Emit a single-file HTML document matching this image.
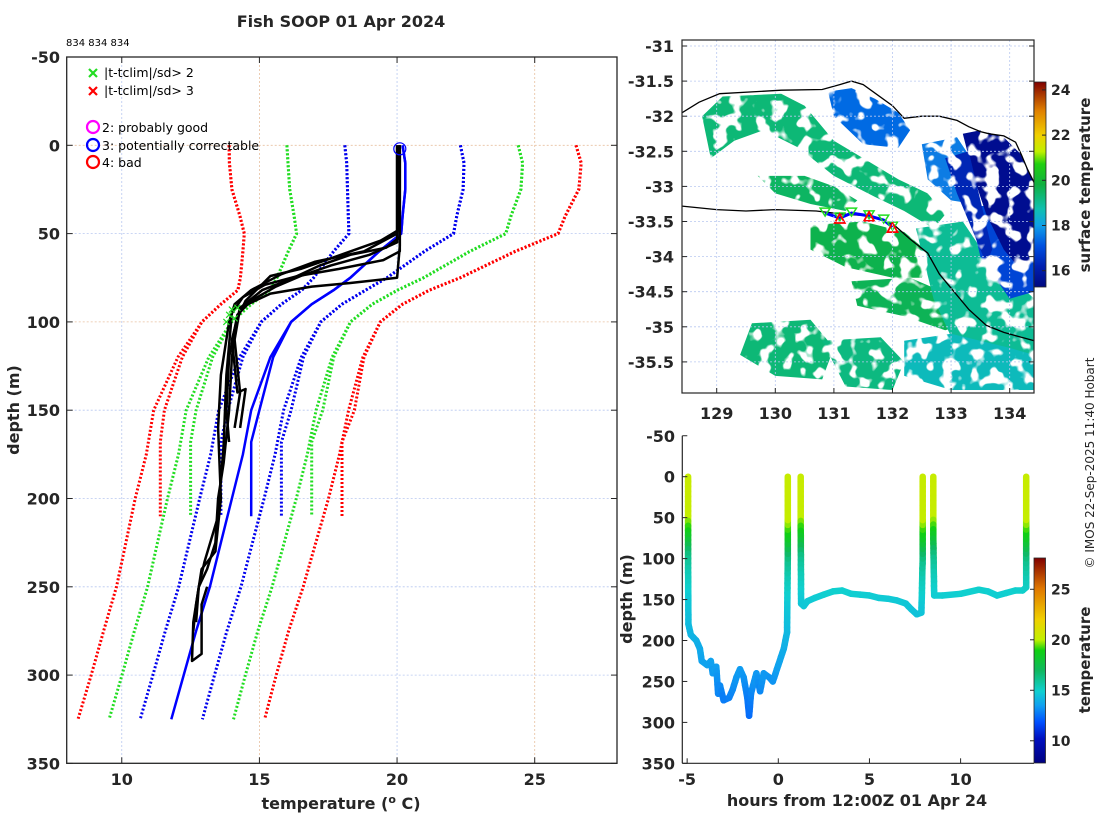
<!DOCTYPE html>
<html><head><meta charset="utf-8"><style>
html,body{margin:0;padding:0;background:#fff}
svg{display:block;font-family:"DejaVu Sans","Liberation Sans",sans-serif}
.b{font-weight:bold;fill:#262626}
</style></head><body>
<svg id="s" width="1100" height="820" viewBox="0 0 1100 820" xmlns="http://www.w3.org/2000/svg">
<defs>
<linearGradient id="cbMap" x1="0" y1="1" x2="0" y2="0">
<stop offset="0" stop-color="#000880"/><stop offset="0.1" stop-color="#0020b0"/><stop offset="0.2" stop-color="#0050e0"/>
<stop offset="0.3" stop-color="#10a0e8"/><stop offset="0.38" stop-color="#10c0b0"/><stop offset="0.5" stop-color="#10b040"/>
<stop offset="0.6" stop-color="#20d010"/><stop offset="0.66" stop-color="#c0f000"/><stop offset="0.74" stop-color="#f0d000"/>
<stop offset="0.86" stop-color="#e08000"/><stop offset="1" stop-color="#800000"/></linearGradient>
<linearGradient id="cbTrk" x1="0" y1="1" x2="0" y2="0">
<stop offset="0" stop-color="#000080"/><stop offset="0.12" stop-color="#0010c0"/><stop offset="0.2" stop-color="#0050ff"/>
<stop offset="0.28" stop-color="#10a0f0"/><stop offset="0.35" stop-color="#10d0d0"/><stop offset="0.45" stop-color="#10b860"/>
<stop offset="0.55" stop-color="#10d010"/><stop offset="0.6" stop-color="#c0f000"/><stop offset="0.7" stop-color="#f0d000"/>
<stop offset="0.85" stop-color="#e07800"/><stop offset="1" stop-color="#800000"/></linearGradient>
<filter id="speckle" x="0" y="0" width="1" height="1">
<feTurbulence type="fractalNoise" baseFrequency="0.07" numOctaves="2" seed="4" result="n"/>
<feColorMatrix in="n" type="matrix" values="0 0 0 0 0  0 0 0 0 0  0 0 0 0 0  0 0 0 -12 7.3" result="m"/>
<feComposite in="SourceGraphic" in2="m" operator="in"/>
</filter>
</defs>
<text class="b" x="341" y="27" text-anchor="middle" font-size="16">Fish SOOP 01 Apr 2024</text>
<text x="66" y="46" font-size="10" fill="#000">834 834 834</text>
<g id="main"></g>
<g id="map"></g>
<g id="trk"></g>
<text x="1094" y="463" font-size="12" fill="#262626" text-anchor="middle" transform="rotate(-90 1094 463)">© IMOS 22-Sep-2025 11:40 Hobart</text>
</svg>
<script>
// ---------- data: climatology ----------
const climDepthA=[0,10,25,40,50,60,75,82,90,100,120,150,168,190,210];
const climMeanA=[20.2,20.3,20.3,20.2,20.15,19.35,18.3,17.7,16.9,16.15,15.5,15.0,14.7,14.7,14.7];
const climSdA=[2.1,2.13,2.1,1.97,1.9,1.65,1.33,1.16,1.1,1.08,1.1,1.15,1.1,1.1,1.1];
const climDepthB=[0,10,25,40,50,60,75,82,90,100,120,150,175,200,225,250,275,300,325];
const climMeanB=[20.2,20.3,20.3,20.2,20.15,19.35,18.3,17.7,16.9,16.15,15.4,14.7,14.4,14.0,13.6,13.2,12.7,12.25,11.8];
const climSdB=[2.1,2.13,2.1,1.97,1.9,1.65,1.33,1.16,1.1,1.08,1.12,1.18,1.17,1.17,1.15,1.13,1.12,1.12,1.13];
// ---------- data: observed profiles [temp, depth] ----------
const prof1=[[20.05,0],[20.05,48],[19.4,54],[17.6,64],[16.5,70],[15.4,74],[14.5,88],[14.2,98],[14.0,120],[13.9,150],[13.7,180],[13.5,200],[13.4,225],[13.1,240],[12.8,250],[12.6,270],[12.55,292],[12.9,288],[12.9,260],[13.1,250]];
const prof2=[[20.1,0],[20.1,52],[19.6,58],[18.3,62],[17.2,68],[16.1,76],[15.1,82],[14.3,92],[14.1,110],[14.3,140],[14.1,160]];
const prof3=[[20.0,0],[20.0,55],[19.0,62],[17.6,68],[16.5,74],[15.6,80],[14.7,88],[14.2,96],[13.9,120],[13.8,150],[13.9,168]];
const prof4=[[20.1,0],[20.1,57],[20.0,75],[18.3,78],[16.9,80],[15.4,84],[14.3,92],[14.0,110],[14.2,140],[14.5,138],[14.3,160]];
const prof5=[[20.0,0],[20.0,50],[18.8,60],[17.0,66],[15.8,73],[14.7,82],[14.1,90],[13.9,100],[13.6,130],[13.5,160],[13.6,200],[13.4,230],[12.9,240],[12.7,260],[12.6,275]];
const prof6=[[20.1,0],[20.1,60],[19.5,65],[17.9,70],[16.4,74],[15.2,79],[14.4,86],[14.0,95],[13.8,130],[13.7,170],[13.5,210],[13.0,236],[12.8,250],[12.7,270]];
const flagX=[[14.0,93],[13.9,96],[14.1,98],[13.8,100],[14.2,92]];
const xTicks=[10,15,20,25];
const yTicks=[-50,0,50,100,150,200,250,300,350];
// ---------- data: fish track ----------
const trackHours=[[-4.95,-4.95,-4.95,-4.93,-4.8,-4.5,-4.3,-4.2,-3.9,-3.7,-3.6,-3.4,-3.3,-3.2,-3.0,-2.7,-2.5,-2.3,-2.1,-1.9,-1.7,-1.6,-1.5,-1.2,-1.0,-0.8,-0.5,-0.3,0,0.3,0.48,0.52,0.52],
[1.23,1.23,1.25,1.4,1.6,2.0,2.5,3.0,3.5,4.0,4.5,5.0,5.5,6.0,6.5,7.0,7.3,7.6,7.85,7.92,7.92],
[8.5,8.5,8.55,9,10,11,11.5,12,12.5,13,13.4,13.6,13.6]];
const trackDepths=[[0,60,100,180,193,200,210,225,230,225,240,232,265,255,273,270,260,245,235,245,270,292,265,240,262,240,245,250,230,210,190,100,0],
[0,60,155,158,152,148,144,140,139,143,144,145,148,149,151,155,162,168,166,100,0],
[0,70,145,145,143,138,140,145,142,139,139,135,0]];
const hTicks=[-5,0,5,10];
// ---------- data: map ----------
const lonTicks=[129,130,131,132,133,134];
const latTicks=[-31,-31.5,-32,-32.5,-33,-33.5,-34,-34.5,-35,-35.5];
const coastLon=[128.41,128.7,129.05,130.1,130.8,131.1,131.3,131.5,132.0,132.2,132.5,132.8,133.1,133.3,133.5,133.65,133.9,134.1,134.2,134.3,134.42];
const coastLat=[-31.95,-31.8,-31.68,-31.63,-31.62,-31.55,-31.5,-31.55,-31.85,-32.03,-32.0,-32.0,-32.06,-32.15,-32.22,-32.25,-32.28,-32.37,-32.55,-32.75,-32.95];
const shelfLon=[128.41,129.0,129.5,130.0,130.7,131.1,131.6,132.0,132.3,132.6,132.8,133.0,133.3,133.6,133.9,134.2,134.42];
const shelfLat=[-33.28,-33.33,-33.35,-33.33,-33.35,-33.39,-33.42,-33.53,-33.75,-33.95,-34.25,-34.45,-34.75,-34.98,-35.08,-35.15,-35.2];
const shipLon=[130.85,131.1,131.3,131.6,131.85,132.0];
const shipLat=[-33.38,-33.45,-33.38,-33.42,-33.48,-33.58];
const sstPatches=[
 {t:19.3,lon:[128.75,129.1,130.1,130.5,131.0,131.6,132.1,132.6,132.9,132.7,132.2,131.7,131.0,130.4,129.8,129.3,128.9],lat:[-32.0,-31.72,-31.68,-31.85,-32.35,-32.65,-32.9,-33.1,-33.4,-33.6,-33.35,-33.15,-32.85,-32.45,-32.2,-32.35,-32.6]},
 {t:19.5,lon:[129.7,130.5,131.0,131.4,131.2,130.6,130.0],lat:[-32.85,-32.85,-33.0,-33.2,-33.35,-33.25,-33.1]},
 {t:19.7,lon:[130.6,131.5,132.2,132.7,132.5,132.0,131.2,130.6],lat:[-33.55,-33.5,-33.65,-34.0,-34.3,-34.3,-34.15,-33.9]},
 {t:19.6,lon:[131.3,132.3,133.0,133.3,132.9,132.2,131.4],lat:[-34.35,-34.3,-34.55,-34.95,-35.05,-34.85,-34.7]},
 {t:19.3,lon:[129.6,130.6,131.0,130.8,130.0,129.4],lat:[-34.95,-34.9,-35.3,-35.75,-35.7,-35.4]},
 {t:19.2,lon:[130.8,131.8,132.2,132.0,131.2],lat:[-35.2,-35.15,-35.5,-35.9,-35.85]},
 {t:19.0,lon:[132.4,133.2,133.6,134.42,134.42,133.8,133.2,132.7],lat:[-33.6,-33.5,-34.0,-34.6,-35.9,-35.9,-35.5,-34.6]},
 {t:18.6,lon:[132.2,133.0,134.0,134.42,134.42,133.0,132.2],lat:[-35.2,-35.1,-35.3,-35.4,-35.9,-35.9,-35.7]},
 {t:17.4,lon:[130.9,131.3,131.7,132.1,132.3,132.1,131.5,131.0],lat:[-31.65,-31.6,-31.75,-31.95,-32.2,-32.45,-32.4,-32.0]},
 {t:17.6,lon:[132.5,133.1,133.5,133.4,133.0,132.6],lat:[-32.4,-32.3,-32.8,-33.25,-33.2,-32.9]},
 {t:16.9,lon:[133.3,134.42,134.42,134.0,133.5],lat:[-33.3,-33.2,-34.5,-34.6,-34.0]},
 {t:15.6,lon:[133.2,133.5,133.9,134.2,134.42,134.42,134.2,133.9,133.6,133.4],lat:[-32.25,-32.2,-32.3,-32.55,-32.95,-34.0,-34.2,-33.9,-33.4,-32.9]},
 {t:16.3,lon:[132.9,133.3,133.5,133.7,133.6,133.1],lat:[-32.6,-32.5,-33.2,-33.9,-34.1,-33.1]}
];

const S=document.getElementById('s');
const NS='http://www.w3.org/2000/svg';
function mk(tag,attrs,parent){const e=document.createElementNS(NS,tag);for(const k in attrs)e.setAttribute(k,attrs[k]);(parent||S).appendChild(e);return e;}
function interp(xs,ys,x){if(x<=xs[0])return ys[0];for(let i=1;i<xs.length;i++){if(x<=xs[i]){const f=(x-xs[i-1])/(xs[i]-xs[i-1]);return ys[i-1]+f*(ys[i]-ys[i-1]);}}return ys[ys.length-1];}
const stops=[[0,[0,0,128]],[0.12,[0,16,192]],[0.2,[0,80,255]],[0.28,[16,160,240]],[0.35,[16,208,208]],[0.45,[16,184,96]],[0.55,[16,208,16]],[0.6,[192,240,0]],[0.7,[240,208,0]],[0.85,[224,120,0]],[1,[128,0,0]]];
function cmap(t){t=Math.max(0,Math.min(1,t));for(let i=1;i<stops.length;i++){if(t<=stops[i][0]){const a=stops[i-1],b=stops[i],f=(t-a[0])/(b[0]-a[0]);const c=a[1].map((v,j)=>Math.round(v+f*(b[1][j]-v)));return 'rgb('+c.join(',')+')';}}return 'rgb(128,0,0)';}
const mstops=[[0,[0,8,128]],[0.1,[0,32,176]],[0.2,[0,80,224]],[0.3,[16,160,232]],[0.38,[16,192,176]],[0.5,[16,176,64]],[0.6,[32,208,16]],[0.66,[192,240,0]],[0.74,[240,208,0]],[0.86,[224,128,0]],[1,[128,0,0]]];
function mcmap(T){const t=Math.max(0,Math.min(1,(T-15.3)/(24.35-15.3)));for(let i=1;i<mstops.length;i++){if(t<=mstops[i][0]){const a=mstops[i-1],b=mstops[i],f=(t-a[0])/(b[0]-a[0]);return 'rgb('+a[1].map((v,j)=>Math.round(v+f*(b[1][j]-v))).join(',')+')';}}return 'rgb(128,0,0)';}

// ================= MAIN PROFILE PLOT =================
const G=document.getElementById('main');
const X=T=>66.7+(T-8)*27.53, Y=d=>57+(d+50)*1.766;
const L=66.7,R=617,T0=57,B=763.3;
xTicks.forEach((v,i)=>{const g=mk('line',{x1:X(v),x2:X(v),y1:T0,y2:B,stroke:(i%2?'#e8c0a0':'#b8c8f0'),'stroke-width':0.8,'stroke-dasharray':'2 2'},G);
});
yTicks.forEach((v,i)=>{const g=mk('line',{x1:L,x2:R,y1:Y(v),y2:Y(v),stroke:(v===0||v===100?'#e8c0a0':'#b8c8f0'),'stroke-width':0.8,'stroke-dasharray':'2 2'},G);
});
function dotted(depths,temps,color,name){const p=depths.map((d,i)=>X(temps[i]).toFixed(1)+','+Y(d).toFixed(1)).join(' ');
const e=mk('polyline',{points:p,fill:'none',stroke:color,'stroke-width':3,'stroke-dasharray':'2 2'},G);
}
[[climDepthA,climMeanA,climSdA],[climDepthB,climMeanB,climSdB]].forEach(([D,M,SD],k)=>{
 [[-3,'#ff0000'],[-2,'#22dd22'],[-1,'#0000ee'],[1,'#0000ee'],[2,'#22dd22'],[3,'#ff0000']].forEach(([n,c])=>{
  dotted(D,M.map((m,i)=>m+n*SD[i]),c,'clim-sd'+(n>0?'plus':'minus')+Math.abs(n));});
});
[[climDepthA,climMeanA],[climDepthB,climMeanB]].forEach(([D,M])=>{
 const e=mk('polyline',{points:D.map((d,i)=>X(M[i]).toFixed(1)+','+Y(d).toFixed(1)).join(' '),fill:'none',stroke:'#0000ff','stroke-width':2.5},G);
 });
[prof1,prof2,prof3,prof4,prof5,prof6].forEach((P,i)=>{
 const e=mk('polyline',{points:P.map(p=>X(p[0]).toFixed(1)+','+Y(p[1]).toFixed(1)).join(' '),fill:'none',stroke:'#000','stroke-width':2.5,'stroke-linejoin':'round'},G);
 });
flagX.forEach(p=>{const x=X(p[0]),y=Y(p[1]);const e=mk('path',{d:`M${x-3},${y-3}L${x+3},${y+3}M${x-3},${y+3}L${x+3},${y-3}`,stroke:'#22dd22','stroke-width':1.2},G);
 });
{const e=mk('circle',{cx:X(20.1),cy:Y(2),r:6,fill:'none',stroke:'#0000ff','stroke-width':1.2},G);}
{const e=mk('rect',{x:L,y:T0,width:R-L,height:B-T0,fill:'none',stroke:'#262626','stroke-width':1.3},G);}
xTicks.forEach(v=>{mk('line',{x1:X(v),x2:X(v),y1:B,y2:B-6,stroke:'#262626'},G);mk('line',{x1:X(v),x2:X(v),y1:T0,y2:T0+6,stroke:'#262626'},G);
 const t=mk('text',{x:X(v),y:785,'text-anchor':'middle','font-size':16,class:'b'},G);t.textContent=v;});
yTicks.forEach(v=>{mk('line',{x1:L,x2:L+6,y1:Y(v),y2:Y(v),stroke:'#262626'},G);mk('line',{x1:R,x2:R-6,y1:Y(v),y2:Y(v),stroke:'#262626'},G);
 const t=mk('text',{x:60,y:Y(v)+6,'text-anchor':'end','font-size':16,class:'b'},G);t.textContent=v;});
{const t=mk('text',{x:19,y:410,'text-anchor':'middle','font-size':16,class:'b',transform:'rotate(-90 19 410)'},G);t.textContent='depth (m)';}
{const t=mk('text',{x:341,y:809,'text-anchor':'middle','font-size':16,class:'b'},G);t.innerHTML='temperature (<tspan font-size="11" dy="-6">o</tspan><tspan dy="6"> C)</tspan>';}
// legend
[[73,'#22dd22','|t-tclim|/sd> 2'],[91,'#ff0000','|t-tclim|/sd> 3']].forEach(([y,c,s])=>{
 const e=mk('path',{d:`M89,${y-4}L97,${y+4}M89,${y+4}L97,${y-4}`,stroke:c,'stroke-width':2.2},G);
 const t=mk('text',{x:104,y:y+4,'font-size':12.5,fill:'#000'},G);t.textContent=s;});
[[127,'#ff00ff','2: probably good'],[145,'#0000ff','3: potentially correctable'],[162,'#ff0000','4: bad']].forEach(([y,c,s])=>{
 const e=mk('circle',{cx:93,cy:y,r:6,fill:'none',stroke:c,'stroke-width':2.2},G);
 const t=mk('text',{x:102,y:y+5,'font-size':12.5,fill:'#000'},G);t.textContent=s;});

// ================= MAP =================
const M=document.getElementById('map');
const MX=lon=>716.7+(lon-129)*58.6, MY=lat=>46+(-31-lat)*70.2;
const ML=682,MR=1034,MT=40,MB=393;
const cp=mk('clipPath',{id:'mclip'},M);mk('rect',{x:ML,y:MT,width:MR-ML,height:MB-MT},cp);
const MC=mk('g',{'clip-path':'url(#mclip)'},M);
const MG=mk('g',{filter:'url(#speckle)'},MC);
mk('rect',{x:ML,y:MT,width:MR-ML,height:MB-MT,fill:'none'},MG);
sstPatches.forEach(p=>{const e=mk('polygon',{points:p.lon.map((l,i)=>MX(l).toFixed(1)+','+MY(p.lat[i]).toFixed(1)).join(' '),fill:mcmap(p.t)},MG);
 });
lonTicks.forEach(v=>{mk('line',{x1:MX(v),x2:MX(v),y1:MT,y2:MB,stroke:'#b8c8f0','stroke-width':0.8,'stroke-dasharray':'2 2'},M);});
latTicks.forEach(v=>{mk('line',{x1:ML,x2:MR,y1:MY(v),y2:MY(v),stroke:'#b8c8f0','stroke-width':0.8,'stroke-dasharray':'2 2'},M);});
{const e=mk('polyline',{points:coastLon.map((l,i)=>MX(l).toFixed(1)+','+MY(coastLat[i]).toFixed(1)).join(' '),fill:'none',stroke:'#000','stroke-width':1.3},MC);}
{const e=mk('polyline',{points:shelfLon.map((l,i)=>MX(l).toFixed(1)+','+MY(shelfLat[i]).toFixed(1)).join(' '),fill:'none',stroke:'#000','stroke-width':1.3},MC);}
{const e=mk('polyline',{points:shipLon.map((l,i)=>MX(l).toFixed(1)+','+MY(shipLat[i]).toFixed(1)).join(' '),fill:'none',stroke:'#0000ff','stroke-width':3},MC);}
shipLon.forEach((l,i)=>{const x=MX(l),y=MY(shipLat[i]);
 const g=mk('polygon',{points:`${x-5},${y-5} ${x+5},${y-5} ${x},${y+3}`,fill:'none',stroke:'#22dd22','stroke-width':1.5},MC);
 if(i%2){const r=mk('polygon',{points:`${x-5},${y+5} ${x+5},${y+5} ${x},${y-4}`,fill:'none',stroke:'#ff0000','stroke-width':1.8},MC);}});
{const e=mk('rect',{x:ML,y:MT,width:MR-ML,height:MB-MT,fill:'none',stroke:'#262626','stroke-width':1.2},M);}
lonTicks.forEach(v=>{mk('line',{x1:MX(v),x2:MX(v),y1:MB,y2:MB-5,stroke:'#262626'},M);
 const t=mk('text',{x:MX(v),y:419,'text-anchor':'middle','font-size':16,class:'b'},M);t.textContent=v;});
latTicks.forEach(v=>{mk('line',{x1:ML,x2:ML+5,y1:MY(v),y2:MY(v),stroke:'#262626'},M);mk('line',{x1:MR,x2:MR-5,y1:MY(v),y2:MY(v),stroke:'#262626'},M);
 const t=mk('text',{x:674,y:MY(v)+6,'text-anchor':'end','font-size':16,class:'b'},M);t.textContent=v;});
{const e=mk('rect',{x:1034,y:82,width:12,height:205,fill:'url(#cbMap)',stroke:'#262626','stroke-width':0.8},M);}
[16,18,20,22,24].forEach(v=>{const y=270.7-(v-16)*22.6;mk('line',{x1:1046,x2:1042,y1:y,y2:y,stroke:'#262626'},M);
 const t=mk('text',{x:1051,y:y+5,'font-size':14,class:'b'},M);t.textContent=v;});
{const t=mk('text',{x:1090,y:185,'text-anchor':'middle','font-size':15,class:'b',transform:'rotate(-90 1090 185)'},M);t.textContent='surface temperature';}

// ================= TRACK =================
const K=document.getElementById('trk');
const HX=h=>778.3+h*18.23, HY=d=>476.7+d*0.819;
const TL=682.3,TR=1034,TT=435.7,TB=763.3;
trackHours.forEach((hs,k)=>{const ds=trackDepths[k];
 for(let i=1;i<hs.length;i++){const n=Math.max(1,Math.ceil(Math.abs(ds[i]-ds[i-1])/6));
  for(let j=0;j<n;j++){const f0=j/n,f1=(j+1)/n;
   const h0=hs[i-1]+(hs[i]-hs[i-1])*f0,h1=hs[i-1]+(hs[i]-hs[i-1])*f1,d0=ds[i-1]+(ds[i]-ds[i-1])*f0,d1=ds[i-1]+(ds[i]-ds[i-1])*f1;
   const temp=interp(climDepthB,climMeanB,(d0+d1)/2);
   const e=mk('line',{x1:HX(h0).toFixed(1),y1:HY(d0).toFixed(1),x2:HX(h1).toFixed(1),y2:HY(d1).toFixed(1),stroke:cmap((temp-7.8)/20.3),'stroke-width':6.5,'stroke-linecap':'round'},K);
   
   }}});
mk('line',{x1:TL,x2:TL,y1:TT,y2:TB,stroke:'#262626','stroke-width':1.2},K);mk('line',{x1:TL,x2:TR,y1:TB,y2:TB,stroke:'#262626','stroke-width':1.2},K);
hTicks.forEach(v=>{mk('line',{x1:HX(v),x2:HX(v),y1:TB,y2:TB-5,stroke:'#262626'},K);
 const t=mk('text',{x:HX(v),y:785,'text-anchor':'middle','font-size':16,class:'b'},K);t.textContent=v;});
yTicks.forEach(v=>{mk('line',{x1:TL,x2:TL+5,y1:HY(v),y2:HY(v),stroke:'#262626'},K);
 const t=mk('text',{x:675,y:HY(v)+6,'text-anchor':'end','font-size':16,class:'b'},K);t.textContent=v;});
{const t=mk('text',{x:857,y:806,'text-anchor':'middle','font-size':16,class:'b'},K);t.textContent='hours from 12:00Z 01 Apr 24';}
{const t=mk('text',{x:632,y:599,'text-anchor':'middle','font-size':16,class:'b',transform:'rotate(-90 632 599)'},K);t.textContent='depth (m)';}
{const e=mk('rect',{x:1034,y:558,width:11.5,height:205,fill:'url(#cbTrk)',stroke:'#262626','stroke-width':0.8},K);}
[10,15,20,25].forEach(v=>{const y=763-(v-7.8)*10.1;mk('line',{x1:1034,x2:1030,y1:y,y2:y,stroke:'#262626'},K);
 const t=mk('text',{x:1051,y:y+5,'font-size':14,class:'b'},K);t.textContent=v;});
{const t=mk('text',{x:1090,y:660,'text-anchor':'middle','font-size':15,class:'b',transform:'rotate(-90 1090 660)'},K);t.textContent='temperature';}
</script>
</body></html>
